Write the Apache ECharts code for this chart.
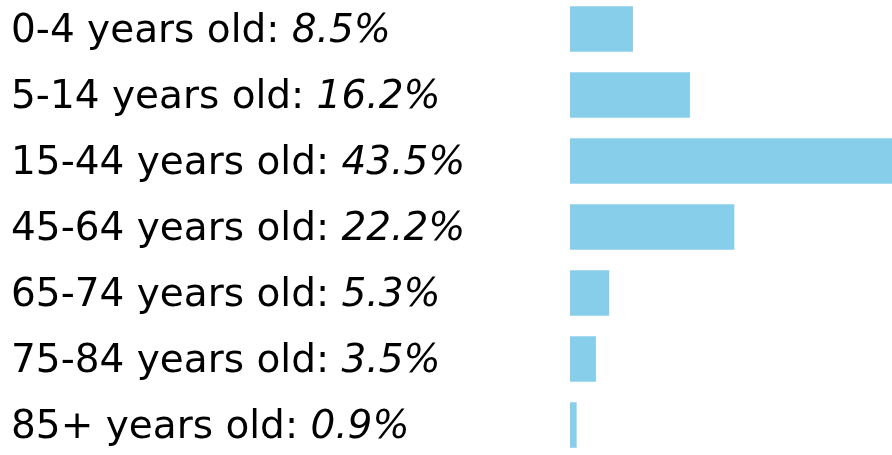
<!DOCTYPE html>
<html lang="en">
<head>
    <meta charset="UTF-8">
    <title>Age distribution</title>
    <script src="https://cdn.jsdelivr.net/npm/echarts@6/dist/echarts.min.js"></script>
    <style type="text/css">
        html, body { margin: 0; padding: 0; background: #fff; }
        #ageChart { width: 892px; height: 455px; }
    </style>
</head>
<body>
<div id="ageChart"></div>
<script type="text/javascript">
    // age groups, top to bottom
    var ageGroups = ['0-4 years old', '5-14 years old', '15-44 years old', '45-64 years old',
        '65-74 years old', '75-84 years old', '85+ years old'];
    // share of population, %
    var shares = [8.5, 16.2, 43.5, 22.2, 5.3, 3.5, 0.9];

    var ageChart = echarts.init(document.getElementById('ageChart'));

    var option = {
        animation: false,
        grid: {
            left: 570,
            right: 0,
            top: -4,
            bottom: -3,
            outerBoundsMode: 'none'
        },
        xAxis: {
            type: 'value',
            min: 0,
            max: 43.5,
            show: false
        },
        yAxis: {
            type: 'category',
            inverse: true,
            data: ageGroups,
            axisLine: { show: false },
            axisTick: { show: false },
            axisLabel: {
                align: 'left',
                margin: 559,
                formatter: function (value, idx) {
                    return '{n|' + value + ': }{p|' + shares[idx].toFixed(1) + '%}';
                },
                rich: {
                    n: {
                        fontFamily: 'DejaVu Sans',
                        fontSize: 39,
                        color: '#000',
                        padding: [6, 0, 0, 0]
                    },
                    p: {
                        fontFamily: 'DejaVu Sans',
                        fontStyle: 'italic',
                        fontSize: 39,
                        color: '#000',
                        padding: [6, 0, 0, 0]
                    }
                }
            }
        },
        series: [
            {
                type: 'bar',
                data: shares,
                barCategoryGap: '31%',
                itemStyle: {
                    color: '#87ceeb'
                }
            }
        ]
    };
    ageChart.setOption(option);
</script>
</body>
</html>
